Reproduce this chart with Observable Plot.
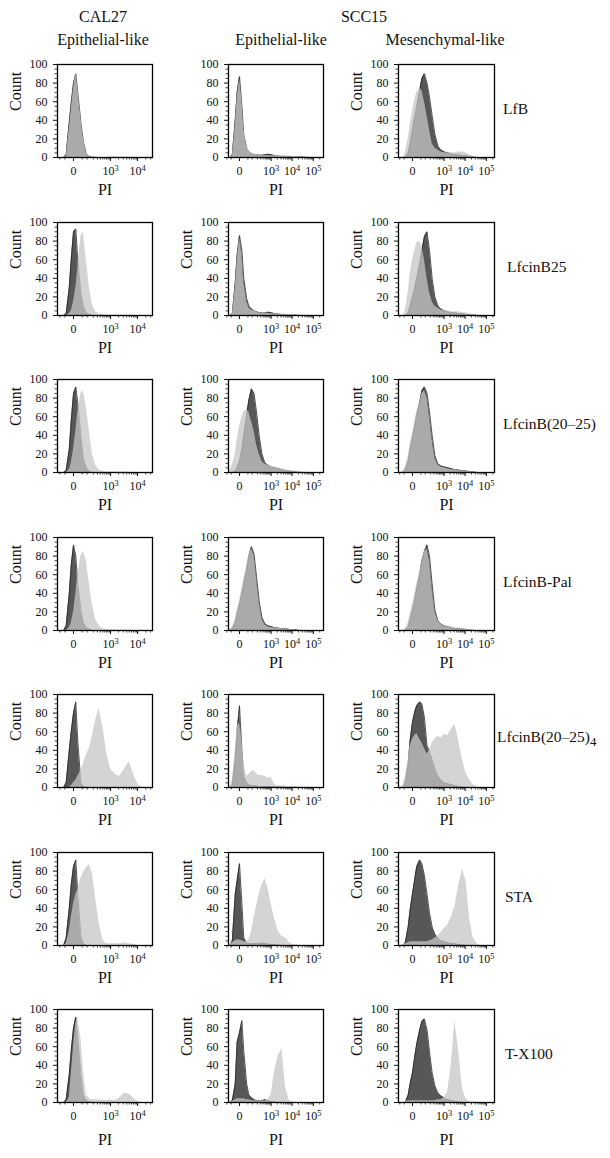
<!DOCTYPE html>
<html><head><meta charset="utf-8">
<script src="https://cdn.jsdelivr.net/npm/d3@7"></script>
<script src="https://cdn.jsdelivr.net/npm/@observablehq/plot@0.6"></script>
<style>
body{margin:0;background:#fff;}
#root{position:relative;width:610px;height:1158px;overflow:hidden;font-family:"Liberation Serif",serif;color:#111;}
.lbl{position:absolute;white-space:nowrap;font-size:16px;line-height:1;}
.panel{position:absolute;}
.panel svg{overflow:visible;}
</style></head><body><div id="root"></div>
<script>
// ---------- categories / labels ----------
const cellLines = ["CAL27", "SCC15"];
const phenotypes = ["Epithelial-like", "Epithelial-like", "Mesenchymal-like"];
const treatments = ["LfB", "LfcinB25", "LfcinB(20–25)", "LfcinB-Pal", "LfcinB(20–25)<sub>4</sub>", "STA", "T-X100"];

// ---------- x bins (PI intensity) ----------
const binsCAL = [-130,-90,-60,-40,-20,-10,0,10,20,40,60,90,130,180,250,350,500,700,1000,1500,2200,3300,5000,7500,11000,16000,24000];
const binsSCC = [-90,-60,-40,-20,-10,0,10,20,40,60,90,130,180,250,350,500,700,1000,1500,2200,3300,5000,7500,11000,16000,24000,36000,55000,80000,120000,180000,260000];

// ---------- tick values / labels ----------
const yTicks = [0,20,40,60,80,100];
const yMinorTicks = [5,10,15,25,30,35,45,50,55,65,70,75,85,90,95];
const xTicksCAL = [0,1000,10000];
const xTickLabelsCAL = ["0","10^3","10^4"];
const xTicksSCC = [0,1000,10000,100000];
const xTickLabelsSCC = ["0","10^3","10^4","10^5"];
const xMinorCAL = [-100,-50,50,100,200,300,400,500,600,700,800,900,2000,3000,4000,5000,6000,7000,8000,9000,20000,30000];
const xMinorSCC = [-100,-50,50,100,200,300,400,500,600,700,800,900,2000,3000,4000,5000,6000,7000,8000,9000,20000,30000,40000,50000,60000,70000,80000,90000,200000];

// ---------- counts (dark = control, light = treated) ----------
// LfB
const LfB_CAL27_dark  = [0,0,0,3,38,58,80,90,70,38,17,4,1,0.5,0,0,0,0,0,0,0,0,0,0,0,0,0];
const LfB_CAL27_light = [0,0,0,1,32,52,75,92,74,42,20,5,2,1,0.5,0,0,0,0.5,0.5,0.5,0.5,0.3,0,0,0,0];
const LfB_SCC15E_dark  = [0,0,3,40,70,87,55,25,10,6,4,3,3,2.5,2.5,3,3.5,3,2,1.5,1,1,1,0.5,0.5,0.5,0.3,0,0,0,0,0];
const LfB_SCC15E_light = [0,0,2,35,65,84,60,30,12,7,5,4,3,3,2.5,2.5,2,2,2,2.5,2.5,2,1.5,1,1,0.5,0.5,0.5,0.3,0,0,0];
const LfB_SCC15M_dark  = [0,0,0,5,15,30,45,55,72,85,90,80,65,45,25,12,8,6,5,4,3,3,2,2,1,0.5,0,0,0,0,0,0];
const LfB_SCC15M_light = [0,0,5,20,35,50,62,70,75,72,60,45,30,15,10,8,6,5,5,5,5,6,6,5,3,1,0,0,0,0,0,0];
// LfcinB25
const B25_CAL27_dark  = [0,0,0,2,30,60,90,93,60,25,10,3,1,0,0,0,0,0,0,0,0,0,0,0,0,0,0];
const B25_CAL27_light = [0,0,0,0,2,5,15,30,50,85,90,60,30,12,4,2,1,0.5,0.5,0.5,0.5,0.3,0.3,0,0,0,0];
const B25_SCC15E_dark  = [0,0,2,35,65,86,70,40,18,10,7,5,4,3,3,3,3.5,3,2,1.5,1,1,0.5,0.5,0.3,0,0,0,0,0,0,0];
const B25_SCC15E_light = [0,0,2,30,60,84,65,35,15,8,6,5,4,3,3,3,2.5,2,2,2,1.5,1,1,1,0.5,0.5,0.3,0,0,0,0,0];
const B25_SCC15M_dark  = [0,0,0,3,10,20,30,40,55,70,85,90,70,40,20,10,7,5,4,3,3,2,2,1,1,0.5,0,0,0,0,0,0];
const B25_SCC15M_light = [0,0,5,25,45,60,70,78,80,75,60,40,25,15,10,8,6,5,5,4,4,4,3,3,2,1,0.5,0,0,0,0,0];
// LfcinB(20-25)
const B2025_CAL27_dark  = [0,0,0,2,25,55,85,92,75,40,15,5,1,0,0,0,0,0,0,0,0,0,0,0,0,0,0];
const B2025_CAL27_light = [0,0,0,0,3,10,25,45,65,85,88,70,45,20,8,3,1,0.5,0.5,0.5,0.5,0.5,0.3,0,0,0,0];
const B2025_SCC15E_dark  = [0,0,0,2,5,12,25,40,62,78,90,85,65,40,20,10,8,6,5,4,3,2,1.5,1,0.5,0,0,0,0,0,0,0];
const B2025_SCC15E_light = [0,3,8,20,35,50,60,65,68,65,55,45,30,20,12,9,8,7,6,5,4,3,2.5,2,1.5,1,0.5,0,0,0,0,0];
const B2025_SCC15M_dark  = [0,0,3,12,25,38,50,62,75,88,92,85,65,40,18,9,7,6,5,4,3,2.5,2,1.5,1,0.5,0,0,0,0,0,0];
const B2025_SCC15M_light = [0,2,6,18,30,42,55,65,75,85,88,80,60,35,15,8,6,5,4,3,3,2,2,1.5,1,0.5,0,0,0,0,0,0];
// LfcinB-Pal
const Pal_CAL27_dark  = [0,0,0,5,40,70,92,80,50,22,8,3,1,0,0,0,0,0,0,0,0,0,0,0,0,0,0];
const Pal_CAL27_light = [0,0,0,0,3,8,20,40,60,80,85,75,50,28,12,5,2,1,0.5,0.5,0.5,0.5,0.3,0,0,0,0];
const Pal_SCC15E_dark  = [0,0,2,8,18,28,40,50,66,80,90,82,58,32,14,7,5,4,3,2.5,2,2,1,1,0.5,0,0,0,0,0,0,0];
const Pal_SCC15E_light = [0,1,4,12,22,32,45,55,70,82,88,80,55,30,12,6,4,3,3,2.5,2,2,1,1,0.5,0,0,0,0,0,0,0];
const Pal_SCC15M_dark  = [0,0,0,4,12,22,34,45,60,75,85,92,80,50,22,10,7,5,4,3,2,2,1.5,1,0.5,0,0,0,0,0,0,0];
const Pal_SCC15M_light = [0,0,2,8,18,28,40,50,62,75,85,88,75,45,20,10,7,5,4,4,3,3,2,1.5,1,0.5,0,0,0,0,0,0];
// LfcinB(20-25)4
const Tet_CAL27_dark  = [0,0,0,5,40,60,80,92,50,5,1,0,0,0,0,0,0,0,0,0,0,0,0,0,0,0,0];
const Tet_CAL27_light = [0,0,0,0,0,2,5,8,12,18,25,35,42,55,72,85,65,38,20,14,12,20,28,12,2,0,0];
const Tet_SCC15E_dark  = [0,0,2,30,60,88,40,12,5,3,2,2,1.5,1,1,1,1,1,0.5,0.5,0.3,0,0,0,0,0,0,0,0,0,0,0];
const Tet_SCC15E_light = [0,2,8,40,65,70,50,25,12,14,17,18,15,13,13,12,10,11,3,2,1.5,1.5,1,1,1,0.5,0.3,0,0,0,0,0];
const Tet_SCC15M_dark  = [0,0,5,25,50,70,82,88,92,90,75,45,38,30,20,12,8,5,4,3,2,1,0.5,0,0,0,0,0,0,0,0,0];
const Tet_SCC15M_light = [0,3,12,30,45,52,56,58,52,48,42,36,40,48,52,55,53,57,56,62,68,50,30,15,8,3,1,0,0,0,0,0];
// STA
const STA_CAL27_dark  = [0,0,0,8,40,65,85,92,55,10,2,0,0,0,0,0,0,0,0,0,0,0,0,0,0,0,0];
const STA_CAL27_light = [0,0,0,2,15,30,45,55,60,72,78,84,87,78,52,25,6,2,2,2,2,3,2,1,0,0,0];
const STA_SCC15E_dark  = [0,0,5,55,70,88,45,8,3,2,2,2,2,2,3,2,1.5,1,1,0.5,0,0,0,0,0,0,0,0,0,0,0,0];
const STA_SCC15E_light = [0,1,3,5,6,6,5,4,4,6,15,30,42,55,65,72,62,45,28,15,10,8,3,1,0.5,0,0,0,0,0,0,0];
const STA_SCC15M_dark  = [0,0,3,20,38,55,72,85,92,88,75,55,35,20,12,8,5,4,3,2,2,1,0.5,0,0,0,0,0,0,0,0,0];
const STA_SCC15M_light = [0,1,2,3,4,4,4,4,4,4,4,4,5,6,8,10,14,18,22,30,42,65,82,70,30,8,2,0,0,0,0,0];
// T-X100
const TX_CAL27_dark  = [0,0,0,3,30,55,80,92,70,30,8,2,0.5,0,0,0,0,0,0,0,0,0,0,0,0,0,0];
const TX_CAL27_light = [0,0,0,0,5,30,60,85,90,70,35,8,4,3,3,3,2.5,2.5,3,2,5,10,9,4,0.5,0,0];
const TX_SCC15E_dark  = [0,0,2,20,65,75,88,55,20,8,5,3,2,2,2,3,2,1,0.5,0,0,0,0,0,0,0,0,0,0,0,0,0];
const TX_SCC15E_light = [0,0,1,3,4,4,4,4,3,3,2,2,2,2,2,2,3,8,35,50,58,15,2,0.5,0,0,0,0,0,0,0,0];
const TX_SCC15M_dark  = [0,0,0,8,20,32,50,63,78,87,90,78,55,32,18,10,7,5,3,2,1,0.5,0,0,0,0,0,0,0,0,0,0];
const TX_SCC15M_light = [0,0,1,2,2,2,2,2,2,2,2,2,2,2,2,3,3,5,12,40,88,55,15,4,1,0,0,0,0,0,0,0];

const grid = [
  [[LfB_CAL27_dark,LfB_CAL27_light],[LfB_SCC15E_dark,LfB_SCC15E_light],[LfB_SCC15M_dark,LfB_SCC15M_light]],
  [[B25_CAL27_dark,B25_CAL27_light],[B25_SCC15E_dark,B25_SCC15E_light],[B25_SCC15M_dark,B25_SCC15M_light]],
  [[B2025_CAL27_dark,B2025_CAL27_light],[B2025_SCC15E_dark,B2025_SCC15E_light],[B2025_SCC15M_dark,B2025_SCC15M_light]],
  [[Pal_CAL27_dark,Pal_CAL27_light],[Pal_SCC15E_dark,Pal_SCC15E_light],[Pal_SCC15M_dark,Pal_SCC15M_light]],
  [[Tet_CAL27_dark,Tet_CAL27_light],[Tet_SCC15E_dark,Tet_SCC15E_light],[Tet_SCC15M_dark,Tet_SCC15M_light]],
  [[STA_CAL27_dark,STA_CAL27_light],[STA_SCC15E_dark,STA_SCC15E_light],[STA_SCC15M_dark,STA_SCC15M_light]],
  [[TX_CAL27_dark,TX_CAL27_light],[TX_SCC15E_dark,TX_SCC15E_light],[TX_SCC15M_dark,TX_SCC15M_light]]
];

// ---------- layout / style ----------
const FONT = '"Liberation Serif", "DejaVu Serif", serif';
const DARK = "#575757", LIGHT = "#c6c6c6";
const colCfg = [
  {left: 57,  w: 95, constant: 47, domain: [-133, 35000],  bins: binsCAL, ticks: xTicksCAL, labels: xTickLabelsCAL, minor: xMinorCAL},
  {left: 228, w: 95, constant: 34, domain: [-78, 300000],  bins: binsSCC, ticks: xTicksSCC, labels: xTickLabelsSCC, minor: xMinorSCC},
  {left: 398, w: 96, constant: 34, domain: [-120, 240000], bins: binsSCC, ticks: xTicksSCC, labels: xTickLabelsSCC, minor: xMinorSCC}
];
const FH = 93, TOP0 = 64, STEP = 157.5;
const ML = 56, MR = 6, MT = 8, MB = 52;

const root = document.getElementById("root");
function addLabel(html, x, y, opts = {}) {
  const d = document.createElement("div");
  d.className = "lbl";
  d.innerHTML = html;
  d.style.left = x + "px";
  d.style.top = y + "px";
  d.style.transform = opts.left ? "translate(0,-50%)" : "translate(-50%,-50%)";
  if (opts.size) d.style.fontSize = opts.size + "px";
  root.appendChild(d);
}

// column headers
addLabel(cellLines[0], 103, 17);
addLabel(cellLines[1], 364, 17);
addLabel(phenotypes[0], 103, 40);
addLabel(phenotypes[1], 281, 40);
addLabel(phenotypes[2], 445, 40);

const rowLabelX = [503, 507, 503, 503, 497, 505, 505];

function superscripts(svg) {
  svg.querySelectorAll("text").forEach(t => {
    const m = /^10\^(\d)$/.exec(t.textContent);
    if (!m) return;
    t.textContent = "10";
    const s = document.createElementNS("http://www.w3.org/2000/svg", "tspan");
    s.setAttribute("dy", "-0.45em");
    s.setAttribute("font-size", "0.7em");
    s.textContent = m[1];
    t.appendChild(s);
  });
}

grid.forEach((row, r) => {
  const top = Math.round(TOP0 + STEP * r);
  row.forEach(([dark, light], c) => {
    const cfg = colCfg[c];
    const data = cfg.bins.map((x, i) => ({x, dark: dark[i], light: light[i]}));
    const showCount = !(r === 0 && c === 1);
    const tickLab = new Map(cfg.ticks.map((t, i) => [t, cfg.labels[i]]));
    const chart = Plot.plot({
      width: cfg.w + ML + MR, height: FH + MT + MB,
      marginLeft: ML, marginRight: MR, marginTop: MT, marginBottom: MB,
      style: {fontFamily: FONT, fontSize: "12px", background: "transparent", color: "#111"},
      x: {type: "symlog", constant: cfg.constant, domain: cfg.domain},
      y: {domain: [0, 100]},
      marks: [
        Plot.areaY(data, {x: "x", y: "dark", fill: DARK, clip: true}),
        Plot.lineY(data, {x: "x", y: "dark", stroke: "#2a2a2a", strokeWidth: 0.8, clip: true}),
        Plot.areaY(data, {x: "x", y: "light", fill: LIGHT, fillOpacity: 0.75, clip: true}),
        Plot.axisY(yMinorTicks, {tickSize: 2.5, tickFormat: () => "", label: null, strokeWidth: 0.8}),
        Plot.axisY(yTicks, {tickSize: 4, tickPadding: 6, label: null, fontSize: 12}),
        Plot.axisX(cfg.minor, {tickSize: 2.5, tickFormat: () => "", label: null, strokeWidth: 0.8}),
        Plot.axisX(cfg.ticks, {tickSize: 4, tickPadding: 5, label: null, fontSize: 12, tickFormat: d => tickLab.get(d)}),
        Plot.frame({stroke: "#000", strokeWidth: 1.3}),
        showCount ? Plot.text(["Count"], {text: d => d, frameAnchor: "left", dx: -42, rotate: -90, fontSize: 16}) : null,
        Plot.text(["PI"], {text: d => d, frameAnchor: "bottom", dy: r === 6 ? 42 : 37, fontSize: 16})
      ]
    });
    superscripts(chart);
    const holder = document.createElement("div");
    holder.className = "panel";
    holder.style.left = (cfg.left - ML) + "px";
    holder.style.top = (top - MT) + "px";
    holder.appendChild(chart);
    root.appendChild(holder);
  });
  addLabel(treatments[r], rowLabelX[r], top + FH / 2 - 2, {left: true, size: 15.5});
});
</script></body></html>
